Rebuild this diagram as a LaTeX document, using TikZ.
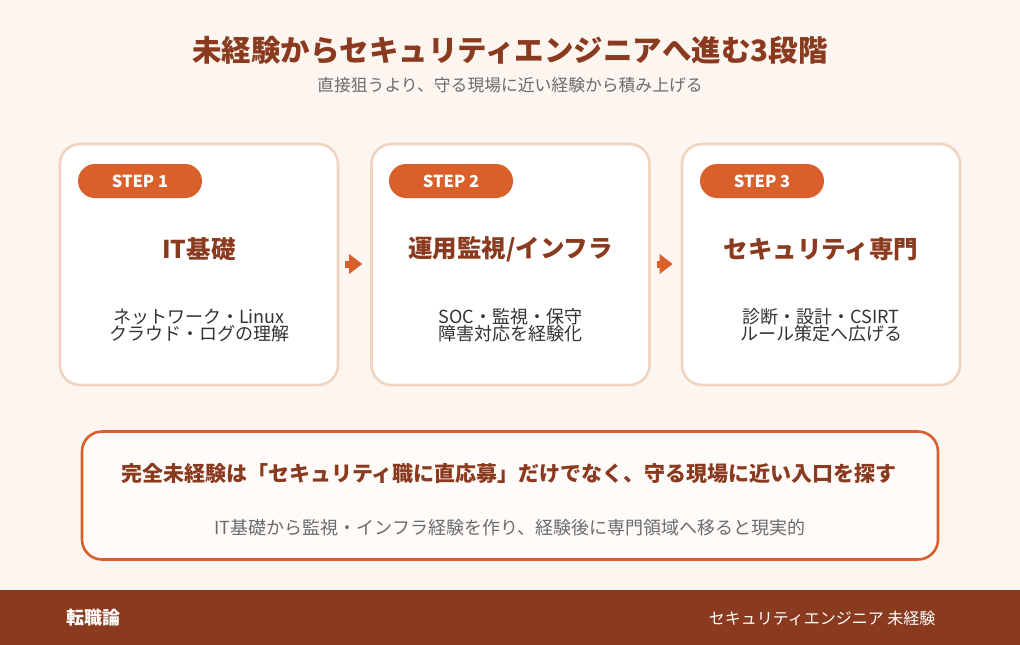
\documentclass[tikz,border=0pt]{standalone}
\usepackage{fontspec}
\setmainfont{Noto Sans CJK JP}
\usepackage{tikz}
\usetikzlibrary{positioning,arrows.meta,calc}
\definecolor{pagecream}{HTML}{FDF5F0}
\definecolor{rustbrown}{HTML}{8A3A1E}
\definecolor{steporange}{HTML}{D9602B}
\definecolor{peachline}{HTML}{F1D3C2}
\definecolor{inkgray}{HTML}{333333}
\definecolor{softgray}{HTML}{6B6B6B}
\tikzset{
  stepcard/.style={draw=peachline, line width=2.6pt, rounded corners=20pt,
    fill=white, minimum width=278pt, minimum height=241pt, inner sep=0pt},
  pill/.style={fill=steporange, rounded corners=17pt, minimum width=124pt,
    minimum height=34pt, inner sep=0pt, text=white,
    font=\fontsize{16.5}{18}\selectfont\bfseries},
  heading/.style={font=\fontsize{24.5}{28}\selectfont\bfseries, text=rustbrown},
  desc/.style={font=\fontsize{18}{17}\selectfont, text=inkgray, align=center},
  stepflow/.style={-{Triangle[length=13pt,width=19pt]}, line width=7pt,
    draw=steporange},
  notebox/.style={draw=steporange, line width=2.6pt, rounded corners=20pt,
    fill=white!60!pagecream, minimum width=856pt, minimum height=128pt,
    inner sep=0pt},
}

\begin{document}
\begin{tikzpicture}[x=1pt,y=-1pt]
\useasboundingbox (0,0) rectangle (1020,645);
\fill[pagecream] (0,0) rectangle (1020,645);
% title
\node[font=\fontsize{29.5}{33}\selectfont\bfseries, text=rustbrown] (title) at (510,50)
  {未経験からセキュリティエンジニアへ進む3段階};
\node[font=\fontsize{16.8}{20}\selectfont, text=softgray] (subtitle) at (510,85)
  {直接狙うより、守る現場に近い経験から積み上げる};
% step cards
\node[stepcard] (card1) at (199,264.5) {};
\node[stepcard] (card2) at (510.5,264.5) {};
\node[stepcard] (card3) at (821,264.5) {};
\node[pill] (pill1) at (140,181) {STEP 1};
\node[pill] (pill2) at (451,181) {STEP 2};
\node[pill] (pill3) at (762,181) {STEP 3};
\node[heading] (head1) at (199,249) {IT基礎};
\node[heading] (head2) at (510.5,249) {運用監視/インフラ};
\node[heading] (head3) at (821,249) {セキュリティ専門};
\node[desc] (desc1) at (199,325) {ネットワーク・Linux\\クラウド・ログの理解};
\node[desc] (desc2) at (510.5,325) {SOC・監視・保守\\障害対応を経験化};
\node[desc] (desc3) at (821,325) {診断・設計・CSIRT\\ルール策定へ広げる};
% arrows between cards
\draw[stepflow] ([xshift=6pt,yshift=0.5pt]card1.east) -- ([xshift=-8pt,yshift=0.5pt]card2.west);
\draw[stepflow] ([xshift=6pt,yshift=0.5pt]card2.east) -- ([xshift=-8pt,yshift=0.5pt]card3.west);
% advice box
\node[notebox] (note) at (510,495.5) {};
\node[font=\fontsize{21}{24}\selectfont\bfseries, text=rustbrown] (notehead) at (509,474)
  {完全未経験は「セキュリティ職に直応募」だけでなく、守る現場に近い入口を探す};
\node[font=\fontsize{18}{22}\selectfont, text=softgray] (notebody) at (510,528)
  {IT基礎から監視・インフラ経験を作り、経験後に専門領域へ移ると現実的};
% footer
\fill[rustbrown] (0,590) rectangle (1020,645);
\node[font=\fontsize{18}{22}\selectfont\bfseries, text=white, anchor=west] (brand) at (63,618) {転職論};
\node[font=\fontsize{16}{20}\selectfont, text=white, anchor=east] (tags) at (939,618)
  {セキュリティエンジニア 未経験};
\end{tikzpicture}
\end{document}
